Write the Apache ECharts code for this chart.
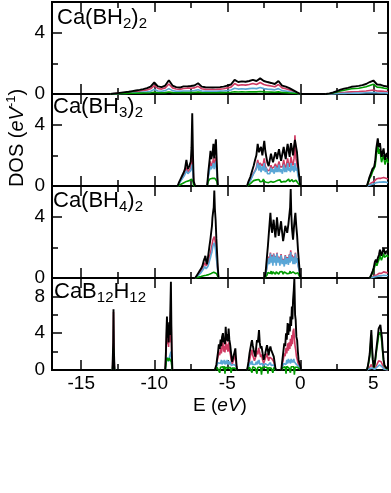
<!DOCTYPE html>
<html>
<head>
<meta charset="utf-8">
<script src="https://cdn.jsdelivr.net/npm/echarts@6/dist/echarts.min.js"></script>
<style>html,body{margin:0;padding:0;background:#fff;}#c{width:391px;height:493px;}</style>
</head>
<body>
<div id="c"></div>
<script>
// ---------- tick / label values ----------
const xLabels = [-15, -10, -5, 0, 5];
const xMajorTicks = [-15, -10, -5, 0, 5];
const xMinorTicks = [-12.5, -7.5, -2.5, 2.5];
const yLabelsA = [0, 4];
const yMajorA = [4];
const yMinorA = [2];
const yLabelsB = [0, 4, 8];
const yMajorB = [4, 8];
const yMinorB = [2, 6];

// ---------- Panel 1: Ca(BH2)2 ----------
const p1E = [
  [-13,-12.75,-12.5,-12.25,-12,-11.75,-11.5,-11.25,-11,-10.75,-10.5,-10.25,-10,-9.75,-9.5,-9.25,-9,-8.75,-8.5,-8.25,-8,-7.75,-7.5,-7.25,-7,-6.75,-6.5,-6.25,-6,-5.75,-5.5,-5.25,-5,-4.75,-4.5,-4.25,-4,-3.75,-3.5,-3.25,-3,-2.75,-2.5,-2.25,-2,-1.75,-1.5,-1.25,-1,-0.75,-0.5,-0.25,0],
  [1.75,2,2.25,2.5,2.75,3,3.25,3.5,3.75,4,4.25,4.5,4.75,5,5.25,5.5,5.75,6]
];
const p1Tot = [
  [0,.03,.06,.09,.12,.15,.19,.23,.27,.32,.38,.48,.75,.5,.45,.55,.9,.55,.45,.42,.5,.5,.52,.55,.7,.48,.44,.43,.42,.43,.45,.48,.55,.62,.92,.78,.82,.8,.85,.92,.85,1.02,.85,.78,.72,.65,.85,.55,.48,.38,.25,.12,0],
  [0,.04,.1,.18,.28,.35,.4,.47,.5,.53,.58,.65,.78,.88,.62,.6,.52,.48]
];
const p1Red = [
  [0,.02,.04,.06,.08,.1,.13,.16,.19,.23,.27,.34,.55,.36,.32,.4,.65,.4,.33,.3,.36,.38,.38,.4,.5,.34,.3,.3,.29,.3,.32,.34,.4,.45,.68,.56,.6,.58,.62,.68,.62,.75,.62,.56,.52,.47,.62,.4,.34,.27,.18,.08,0],
  [0,.01,.03,.05,.08,.1,.12,.14,.15,.16,.18,.2,.23,.26,.2,.19,.17,.16]
];
const p1Blue = [
  [0,.01,.02,.03,.04,.05,.06,.08,.1,.12,.14,.18,.3,.2,.18,.22,.35,.22,.18,.17,.2,.2,.2,.22,.28,.2,.18,.18,.17,.18,.19,.2,.22,.26,.38,.32,.34,.32,.35,.38,.35,.42,.35,.32,.3,.27,.35,.22,.2,.15,.1,.05,0],
  [0,.005,.01,.02,.03,.04,.05,.05,.06,.06,.07,.08,.09,.1,.08,.07,.07,.06]
];
const p1Grn = [
  [0,.01,.02,.03,.03,.04,.05,.05,.06,.07,.07,.08,.11,.08,.08,.09,.13,.09,.08,.08,.09,.09,.09,.1,.12,.09,.08,.08,.08,.08,.09,.09,.1,.11,.15,.13,.14,.13,.14,.15,.14,.16,.14,.13,.12,.11,.14,.1,.09,.07,.05,.03,0],
  [0,.03,.07,.13,.2,.25,.29,.34,.36,.38,.42,.47,.56,.63,.45,.43,.38,.35]
];

// ---------- Panel 2: Ca(BH3)2 ----------
const p2E = [
  [-8.4,-8.3,-8.2,-8.1,-8.0,-7.9,-7.8,-7.7,-7.6,-7.5,-7.45,-7.4,-7.35,-7.3,-7.2],
  [-6.38,-6.3,-6.2,-6.15,-6.1,-6.0,-5.95,-5.9,-5.85,-5.78,-5.72,-5.65],
  [-3.65,-3.55,-3.42,-3.3,-3.2,-3.1,-3.01,-2.92,-2.83,-2.76,-2.69,-2.6,-2.53,-2.47,-2.4,-2.33,-2.25,-2.17,-2.09,-2.01,-1.94,-1.87,-1.79,-1.71,-1.65,-1.6,-1.53,-1.46,-1.39,-1.32,-1.23,-1.14,-1.07,-1.0,-0.94,-0.87,-0.8,-0.73,-0.68,-0.64,-0.57,-0.5,-0.43,-0.37,-0.3,-0.23,-0.17,-0.11,-0.05,0],
  [4.55,4.65,4.72,4.79,4.86,4.93,4.98,5.05,5.12,5.2,5.3,5.37,5.45,5.52,5.56,5.63,5.7,5.75,5.8,5.86,5.92,6.0]
];
const p2Tot = [
  [0,.25,.45,.65,.85,1.1,1.7,1.1,1.3,1.6,2.5,4.75,2.0,.3,0],
  [0,.9,1.8,2.3,1.75,2.2,2.75,1.8,2.3,3.05,1.5,0],
  [0,.3,.6,1.0,1.3,1.7,2.0,2.75,2.2,2.4,2.55,2.0,2.5,2.95,2.3,1.9,1.5,1.3,1.7,2.1,1.8,1.55,1.9,2.2,2.0,1.75,2.1,2.4,2.0,1.65,2.1,2.55,2.1,1.75,2.3,2.75,2.3,1.9,2.5,2.8,2.4,2.0,2.6,3.0,2.6,2.2,1.5,.9,.4,0],
  [0,.3,.55,.6,.9,1.1,1.15,1.25,1.6,2.45,3.1,2.55,2.8,2.2,1.9,2.2,2.45,2.0,1.7,2.0,2.15,1.8]
];
const p2Red = [
  [0,.2,.35,.5,.65,.85,1.2,.9,1.0,1.2,1.6,2.6,1.3,.2,0],
  [0,.7,1.3,1.6,1.3,1.5,1.8,1.3,1.5,1.9,1.0,0],
  [0,.18,.4,.65,.85,1.0,1.2,1.7,1.3,1.5,1.4,1.3,1.5,1.8,1.3,1.25,1.0,.9,1.05,1.35,1.15,1.05,1.25,1.45,1.3,1.15,1.35,1.6,1.25,1.15,1.25,1.7,1.3,1.15,1.45,1.8,1.4,1.25,1.6,1.9,1.5,1.35,1.8,3.3,1.8,1.4,1.0,.6,.28,0],
  [0,.05,.1,.15,.2,.25,.3,.3,.35,.45,.55,.5,.55,.5,.45,.5,.55,.5,.45,.5,.5,.45]
];
const p2Blue = [
  [0,.15,.3,.45,.6,.75,1.0,.8,.9,1.0,1.2,1.4,.8,.1,0],
  [0,.6,1.1,1.3,1.1,1.3,1.5,1.1,1.3,1.6,.9,0],
  [0,.15,.35,.6,.8,.7,1.1,1.5,1.0,1.4,.9,1.3,1.0,1.5,.9,1.2,.8,.9,.8,1.2,.9,1.1,.8,1.3,.9,1.2,.9,1.4,.9,1.1,.8,1.4,.9,1.2,.9,1.5,1.0,1.2,.9,1.5,1.0,1.3,.9,1.5,1.0,1.2,.7,.5,.25,0],
  [0,.03,.05,.08,.1,.12,.15,.15,.18,.22,.28,.25,.27,.25,.22,.25,.27,.25,.22,.25,.25,.22]
];
const p2Grn = [
  [0,.05,.1,.15,.2,.25,.3,.3,.35,.4,.45,.5,.3,.05,0],
  [0,.3,.45,.5,.45,.5,.5,.45,.5,.55,.3,0],
  [0,.08,.15,.25,.35,.25,.4,.3,.42,.28,.4,.3,.45,.3,.38,.25,.35,.22,.35,.3,.4,.25,.38,.3,.42,.28,.38,.3,.4,.25,.38,.3,.42,.28,.4,.3,.45,.28,.4,.3,.42,.28,.4,.3,.38,.25,.2,.12,.06,0],
  [0,.2,.45,.5,.7,.9,.95,1.0,1.3,2.0,2.7,2.1,2.4,1.8,1.55,1.8,2.0,1.65,1.4,1.65,1.8,1.5]
];

// ---------- Panel 3: Ca(BH4)2 ----------
const p3E = [
  [-7.2,-7.1,-7.0,-6.9,-6.8,-6.7,-6.62,-6.55,-6.5,-6.45,-6.39,-6.33,-6.28,-6.22,-6.16,-6.1,-6.05,-6.02,-5.98,-5.93,-5.89,-5.85,-5.8,-5.75,-5.7,-5.65,-5.6],
  [-2.45,-2.38,-2.28,-2.22,-2.17,-2.11,-2.05,-2.0,-1.94,-1.88,-1.83,-1.77,-1.71,-1.65,-1.6,-1.54,-1.48,-1.4,-1.32,-1.25,-1.18,-1.1,-1.03,-0.97,-0.9,-0.82,-0.76,-0.7,-0.66,-0.62,-0.57,-0.5,-0.43,-0.37,-0.34,-0.28,-0.22,-0.16,-0.11,-0.05,0],
  [4.75,4.85,4.95,5.03,5.1,5.17,5.24,5.3,5.38,5.45,5.5,5.55,5.62,5.7,5.76,5.82,5.88,5.95,6.0]
];
const p3Tot = [
  [0,.1,.3,.45,.6,.8,1.1,1.3,1.45,1.1,.9,1.3,1.65,2.1,2.5,3.0,3.4,3.9,4.25,4.6,5.7,4.5,3.8,2.6,1.65,.7,0],
  [0,.35,1.45,2.1,2.75,3.5,4.25,3.5,2.95,3.4,3.8,3.2,2.65,3.3,3.95,3.3,2.75,3.2,3.7,3.0,2.4,2.9,3.4,3.2,2.95,3.5,4.05,4.6,5.8,4.2,3.2,2.5,3.4,4.0,4.25,3.4,2.75,1.8,1.2,.5,0],
  [0,.2,.45,.7,1.05,1.2,1.0,1.3,1.5,1.85,1.65,1.45,1.7,1.95,1.7,1.55,1.75,1.85,1.7]
];
const p3Red = [
  [0,.07,.2,.32,.45,.6,.8,1.0,1.05,.8,.7,.95,1.15,1.4,1.6,1.9,2.1,2.3,2.5,2.4,2.7,2.5,2.2,1.6,1.1,.5,0],
  [0,.2,.8,1.1,1.4,1.1,1.65,1.2,1.5,1.1,1.6,1.2,1.45,1.0,1.65,1.2,1.4,1.0,1.55,1.1,1.25,.95,1.5,1.1,1.35,1.05,1.55,1.3,1.8,1.3,1.5,1.1,1.4,1.1,1.65,1.2,1.3,.9,.8,.4,0],
  [0,.03,.07,.12,.18,.22,.2,.25,.3,.35,.33,.3,.35,.4,.35,.33,.35,.38,.35]
];
const p3Blue = [
  [0,.05,.15,.25,.35,.45,.6,.75,.8,.6,.55,.75,.9,1.1,1.3,1.55,1.7,1.9,2.1,2.0,2.3,2.1,1.8,1.3,.9,.4,0],
  [0,.2,.7,1.0,1.3,.9,1.6,1.0,1.4,.8,1.55,1.0,1.4,.8,1.6,1.0,1.35,.8,1.5,.9,1.2,.75,1.45,.9,1.3,.85,1.5,1.0,1.7,1.1,1.4,.9,1.35,.9,1.6,1.0,1.3,.8,.7,.35,0],
  [0,.02,.04,.06,.09,.1,.1,.12,.14,.16,.15,.14,.16,.18,.16,.15,.16,.17,.16]
];
const p3Grn = [
  [0,.02,.05,.08,.1,.12,.15,.18,.2,.18,.17,.2,.22,.25,.28,.3,.32,.35,.38,.38,.4,.38,.35,.3,.22,.1,0],
  [0,.1,.2,.35,.25,.4,.3,.45,.25,.4,.3,.45,.25,.4,.3,.45,.25,.4,.3,.42,.25,.4,.3,.45,.28,.4,.3,.45,.3,.42,.25,.4,.3,.45,.28,.4,.3,.35,.2,.1,0],
  [0,.15,.35,.55,.8,.95,.8,1.0,1.2,1.5,1.3,1.15,1.35,1.6,1.35,1.25,1.4,1.5,1.35]
];

// ---------- Panel 4: CaB12H12 ----------
const p4E = [
  [-12.86,-12.81,-12.79,-12.76,-12.72],
  [-9.25,-9.2,-9.17,-9.13,-9.1,-9.06,-9.02,-8.98,-8.94,-8.9,-8.86,-8.83,-8.8,-8.76],
  [-5.85,-5.8,-5.75,-5.7,-5.64,-5.58,-5.52,-5.46,-5.41,-5.36,-5.3,-5.25,-5.2,-5.16,-5.11,-5.06,-5.01,-4.96,-4.91,-4.86,-4.8,-4.74,-4.68,-4.62,-4.56,-4.5,-4.45,-4.4,-4.36,-4.32],
  [-3.65,-3.6,-3.55,-3.48,-3.42,-3.36,-3.31,-3.26,-3.2,-3.14,-3.08,-3.02,-2.97,-2.91,-2.86,-2.83,-2.78,-2.72,-2.66,-2.6,-2.55,-2.51,-2.45,-2.4,-2.34,-2.28,-2.22,-2.17,-2.11,-2.05,-2.0,-1.94,-1.88,-1.82,-1.76,-1.71,-1.65],
  [-1.3,-1.26,-1.2,-1.15,-1.1,-1.04,-0.98,-0.93,-0.87,-0.82,-0.77,-0.72,-0.68,-0.63,-0.58,-0.54,-0.5,-0.45,-0.41,-0.36,-0.32,-0.27,-0.22,-0.17,-0.12,-0.07,-0.02,0.03,0.06],
  [4.55,4.62,4.68,4.75,4.8,4.86,4.91,4.96,5.03,5.1,5.17,5.24,5.3,5.36,5.42,5.48,5.53,5.58,5.64,5.7,5.76,5.82,5.9,6.0]
];
const p4Tot = [
  [0,3.0,6.6,2.0,0],
  [0,2.0,4.0,5.8,3.5,4.7,3.0,5.2,3.8,6.5,9.6,5.0,2.0,0],
  [0,.3,.55,1.2,1.9,2.8,2.3,3.3,2.6,3.6,4.0,3.0,3.45,2.8,4.7,3.2,3.9,3.1,4.5,3.3,2.7,1.8,.9,1.2,1.6,2.0,2.35,1.2,.35,0],
  [0,.4,.9,1.8,2.35,2.9,3.25,2.7,2.2,1.8,1.45,2.5,3.25,3.0,3.8,4.35,3.0,2.35,2.6,2.0,1.5,1.1,1.5,1.8,2.3,2.7,2.1,1.6,2.2,2.55,2.2,2.0,1.7,1.45,.8,.2,0],
  [0,.7,1.5,2.2,2.9,2.6,4.0,3.3,5.1,3.8,5.0,4.2,5.8,4.8,6.9,5.5,7.6,8.7,9.95,6.0,5.45,3.6,3.25,2.0,1.1,.8,.55,.2,0],
  [0,.4,1.0,1.8,3.0,4.35,2.5,1.1,.3,.8,1.8,2.8,3.6,4.5,4.7,4.9,4.2,3.6,2.2,1.1,.5,.3,.2,.15]
];
const p4Red = [
  [0,2.8,6.3,1.8,0],
  [0,1.5,3.0,4.5,2.8,3.8,2.5,4.0,3.0,5.0,7.0,3.8,1.5,0],
  [0,.2,.4,.9,1.4,1.9,1.6,2.4,1.8,2.6,3.0,2.0,2.6,1.9,3.2,2.2,2.8,2.0,3.0,2.2,1.8,1.2,.6,.8,1.1,1.3,1.6,.8,.25,0],
  [0,.2,.5,1.0,1.5,1.9,2.2,1.6,1.5,1.0,.9,1.6,2.1,1.7,2.4,2.6,1.9,1.4,1.7,1.2,1.0,.7,1.0,1.1,1.5,1.8,1.3,1.0,1.4,1.6,1.3,1.2,1.0,.9,.5,.1,0],
  [0,.4,.9,1.3,1.8,1.5,2.4,1.8,2.9,2.1,3.0,2.3,3.4,2.6,3.8,2.8,4.2,4.5,3.5,2.6,2.2,1.5,1.2,.8,.6,.4,.3,.1,0],
  [0,.05,.15,.3,.45,.6,.4,.2,.08,.15,.35,.6,.8,1.0,1.1,1.05,.9,.75,.5,.25,.1,.06,.04,.03]
];
const p4Blue = [
  [0,1.0,2.0,.8,0],
  [0,.6,1.0,1.4,1.0,1.3,.9,1.3,1.1,1.5,2.0,1.2,.5,0],
  [0,.15,.3,.5,.8,.6,1.0,.7,1.1,.6,1.0,.7,1.1,.6,1.0,.65,1.1,.6,1.0,.6,.9,.5,.4,.5,.6,.55,.7,.45,.15,0],
  [0,.1,.3,.6,.9,.6,1.0,.6,.8,.5,.6,.9,.6,1.0,.7,1.1,.6,.8,.5,.7,.4,.5,.45,.7,.5,.9,.5,.7,.45,.8,.5,.7,.4,.55,.3,.05,0],
  [0,.2,.4,.7,.5,.9,.6,1.1,.7,1.2,.8,1.1,.7,1.2,.8,1.1,.8,1.2,.9,.7,1.0,.6,.8,.5,.4,.3,.2,.1,0],
  [0,.03,.08,.15,.25,.35,.22,.1,.04,.08,.18,.3,.4,.5,.55,.5,.45,.38,.25,.12,.05,.03,.02,.02]
];
const p4Grn = [
  [0,1.5,2.35,1.0,0],
  [0,.6,1.0,1.3,1.1,1.3,1.0,1.3,1.1,1.3,1.4,.9,.4,0],
  [0,.1,.2,.3,.15,.35,-.3,.3,.2,.25,.35,.1,.4,-.4,.3,.2,.35,.2,.3,.15,.3,-.3,.2,.25,.3,.2,.25,.15,.05,0],
  [0,.1,.2,.3,.2,.35,-.3,.35,.2,.3,.2,.35,-.4,.3,.2,.4,.2,.3,-.5,.3,.2,.2,.3,.25,.2,.3,-.4,.25,.2,.3,.2,.3,-.3,.25,.15,.05,0],
  [0,.1,.25,.4,.2,.35,-.4,.4,.2,.3,.2,.4,-.3,.35,.25,.4,.2,.35,-.5,.3,.2,.25,.3,.2,.2,.15,.1,.05,0],
  [0,.35,.85,1.5,2.6,3.8,2.2,.9,.25,.6,1.5,2.4,3.0,3.8,4.0,4.1,3.6,3.0,1.8,.9,.4,.2,.15,.1]
];

// ---------- build ----------
const FONT = 'Liberation Sans, Arial, Helvetica, sans-serif';
const COL = {red: '#cf3a62', blue: '#5aa6d6', grn: '#009a00', tot: '#000000'};
const panels = [
  {E: p1E, tot: p1Tot, red: p1Red, blue: p1Blue, grn: p1Grn, ymax: 6, lab: yLabelsA, maj: yMajorA, min: yMinorA},
  {E: p2E, tot: p2Tot, red: p2Red, blue: p2Blue, grn: p2Grn, ymax: 6, lab: yLabelsA, maj: yMajorA, min: yMinorA},
  {E: p3E, tot: p3Tot, red: p3Red, blue: p3Blue, grn: p3Grn, ymax: 6, lab: yLabelsA, maj: yMajorA, min: yMinorA},
  {E: p4E, tot: p4Tot, red: p4Red, blue: p4Blue, grn: p4Grn, ymax: 10, lab: yLabelsB, maj: yMajorB, min: yMinorB}
];
const tops = [2, 94, 186, 278];

function toData(Es, Vs) {
  const out = [];
  Es.forEach((band, b) => {
    if (b > 0) out.push([band[0], '-']);
    band.forEach((e, k) => {
      const v = Vs[b][k];
      out.push([e, (v === undefined || v === null) ? '-' : v]);
    });
  });
  return out;
}

const grids = [], xAxes = [], yAxes = [], series = [];
const tickStyle = {color: '#000', width: 1.5};

panels.forEach((p, i) => {
  grids.push({left: 52, width: 336, top: tops[i], height: 92, show: true,
    borderColor: '#000', borderWidth: 2, backgroundColor: 'transparent'});
  const baseX = (pos, vals, len) => ({
    gridIndex: i, type: 'value', min: -17, max: 6, position: pos,
    axisLine: {show: false, onZero: false}, splitLine: {show: false},
    axisTick: {show: true, inside: true, length: len, customValues: vals, lineStyle: tickStyle},
    axisLabel: {show: false}
  });
  const xb = baseX('bottom', xMajorTicks, 10);
  if (i === 3) {
    xb.axisLabel = {show: true, customValues: xLabels, fontSize: 19, color: '#000', fontFamily: FONT, margin: 4};
    xb.name = '{n|E (}{i|eV}{n|)}';
    xb.nameLocation = 'middle';
    xb.nameGap = 24;
    xb.nameTextStyle = {rich: {
      n: {fontSize: 19, fontFamily: FONT, color: '#000', lineHeight: 24},
      i: {fontSize: 19, fontFamily: FONT, fontStyle: 'italic', color: '#000', lineHeight: 24}
    }};
  }
  xAxes.push(xb, baseX('bottom', xMinorTicks, 6), baseX('top', xMajorTicks, 10), baseX('top', xMinorTicks, 6));
  const baseY = (pos, vals, len) => ({
    gridIndex: i, type: 'value', min: 0, max: p.ymax, position: pos,
    axisLine: {show: false, onZero: false}, splitLine: {show: false},
    axisTick: {show: true, inside: true, length: len, customValues: vals, lineStyle: tickStyle},
    axisLabel: {show: false}
  });
  const yl = baseY('left', p.maj, 10);
  yl.axisLabel = {show: true, customValues: p.lab, fontSize: 19, color: '#000', fontFamily: FONT, margin: 7};
  yAxes.push(yl, baseY('left', p.min, 6), baseY('right', p.maj, 10), baseY('right', p.min, 6));

  [['red', 1.6], ['blue', 1.6], ['grn', 1.6], ['tot', 1.9]].forEach(([key, w]) => {
    series.push({
      type: 'line', xAxisIndex: 4 * i, yAxisIndex: 4 * i,
      data: toData(p.E, p[key]),
      showSymbol: false, symbol: 'none', connectNulls: false,
      lineStyle: {color: COL[key], width: w}, itemStyle: {color: COL[key]},
      clip: !(key === 'grn' && i === 3),
      silent: true, animation: false
    });
  });
});

const labelRich = {
  m: {fontSize: 22, fontFamily: FONT, fill: '#000', lineHeight: 26},
  s: {fontSize: 15, fontFamily: FONT, fill: '#000', lineHeight: 12, verticalAlign: 'bottom'}
};
const labelTexts = ['{m|Ca(BH}{s|2}{m|)}{s|2}', '{m|Ca(BH}{s|3}{m|)}{s|2}', '{m|Ca(BH}{s|4}{m|)}{s|2}', '{m|CaB}{s|12}{m|H}{s|12}'];
const labelPos = [[57, 5], [53, 94], [53, 188], [54, 279]];
const graphics = labelTexts.map((t, i) => ({
  type: 'text', x: labelPos[i][0], y: labelPos[i][1], z: 10, silent: true,
  style: {text: t, rich: labelRich, align: 'left', verticalAlign: 'top'}
}));
graphics.push({
  type: 'text', x: 17, y: 138, rotation: Math.PI / 2, z: 10, silent: true,
  style: {
    text: '{n|DOS (}{i|eV}{s|-1}{n|)}', align: 'center', verticalAlign: 'middle',
    rich: {
      n: {fontSize: 20, fontFamily: FONT, fill: '#000', lineHeight: 24},
      i: {fontSize: 20, fontFamily: FONT, fontStyle: 'italic', fill: '#000', lineHeight: 24},
      s: {fontSize: 13, fontFamily: FONT, fill: '#000', lineHeight: 12, verticalAlign: 'top'}
    }
  }
});

const chart = echarts.init(document.getElementById('c'), null, {renderer: 'canvas'});
chart.setOption({
  animation: false,
  backgroundColor: '#fff',
  grid: grids, xAxis: xAxes, yAxis: yAxes, series: series,
  graphic: graphics
});
</script>
</body>
</html>
